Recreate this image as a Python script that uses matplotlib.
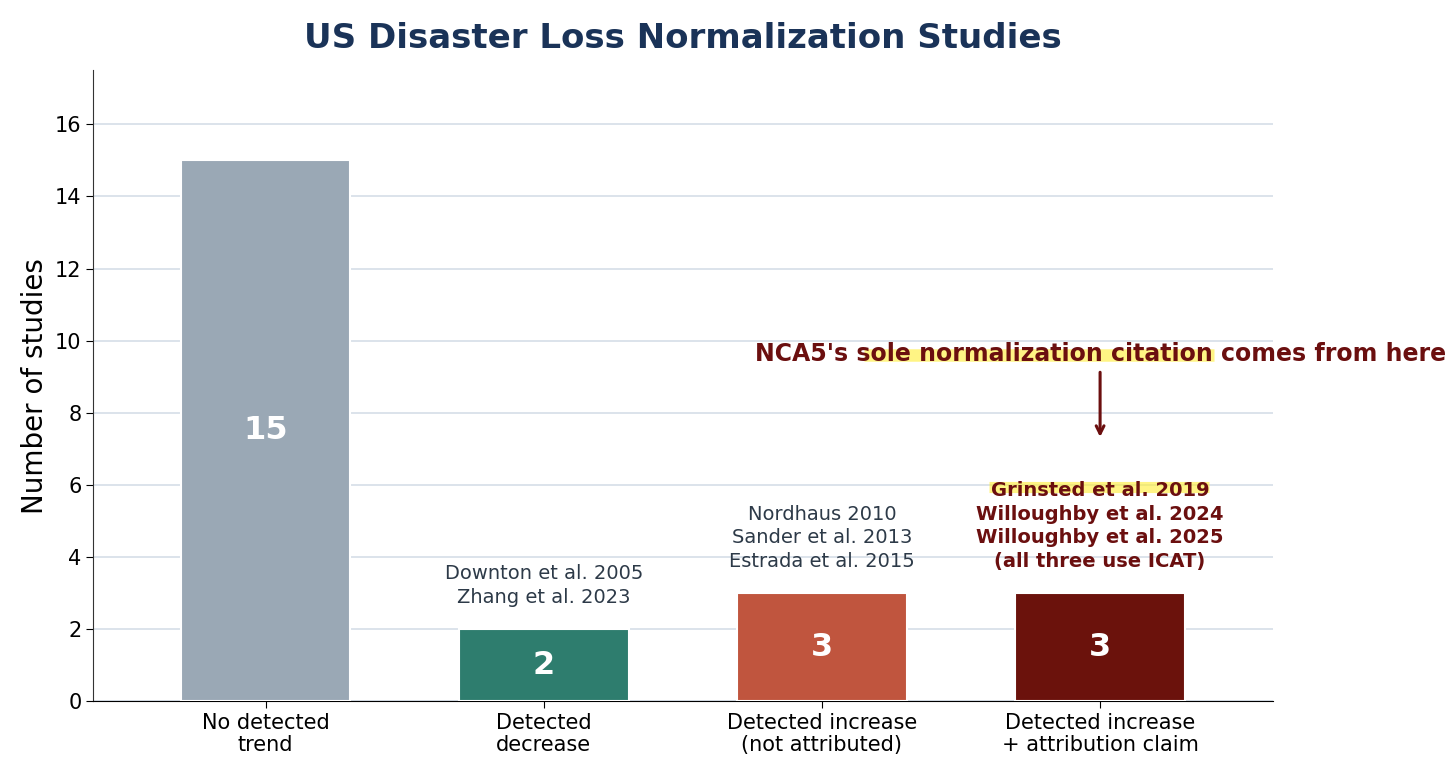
import matplotlib.pyplot as plt

plt.rcParams['font.family'] = ['DejaVu Sans']

###############################################################################
# Data
###############################################################################
categories = ['No detected\ntrend', 'Detected\ndecrease',
              'Detected increase\n(not attributed)',
              'Detected increase\n+ attribution claim']
counts = [15, 2, 3, 3]
studies = [
    None,
    ['Downton et al. 2005', 'Zhang et al. 2023'],
    ['Nordhaus 2010', 'Sander et al. 2013', 'Estrada et al. 2015'],
    ['Grinsted et al. 2019', 'Willoughby et al. 2024',
     'Willoughby et al. 2025', '(all three use ICAT)'],
]
calloutText = "NCA5's sole normalization citation comes from here"
###############################################################################
# Colors
###############################################################################
barColors = ['#9aa8b5', '#2e7d6e', '#c0553e', '#6b120c']
titleColor = '#1a3358'
noteColor = '#2d3a48'
redColor = '#6b0f0f'
hlColor = '#ffee33'
gridColor = '#d5dee8'
###############################################################################
# Plot
###############################################################################
fig, ax = plt.subplots(figsize=(14.56, 7.73), dpi=100)
fig.subplots_adjust(left=0.064, right=0.874, top=0.909, bottom=0.093)

xs = list(range(len(categories)))
ax.bar(xs, counts, width=0.61, color=barColors, edgecolor='white',
       linewidth=1.5, zorder=3)
ax.set_axisbelow(True)
ax.yaxis.grid(True, color=gridColor, linewidth=1.2, zorder=0)

for x, c in zip(xs, counts):
    ax.text(x, c / 2, str(c), ha='center', va='center', color='white',
            fontsize=23, fontweight='bold', zorder=4)

# study lists above bars
ax.text(1, counts[1] + 0.62, '\n'.join(studies[1]), ha='center',
        va='bottom', fontsize=14, color=noteColor, linespacing=1.3)
ax.text(2, counts[2] + 0.62, '\n'.join(studies[2]), ha='center',
        va='bottom', fontsize=14, color=noteColor, linespacing=1.3)
ax.text(3, counts[3] + 0.62, '\n'.join(studies[3]), ha='center',
        va='bottom', fontsize=14, color=redColor, fontweight='bold',
        linespacing=1.3, zorder=5)

# highlights
ax.plot([2.15, 3.41], [9.6, 9.6], color=hlColor, alpha=0.6, lw=9,
        solid_capstyle='butt', zorder=4, clip_on=False)
ax.plot([2.6, 3.39], [5.95, 5.95], color=hlColor, alpha=0.6, lw=8,
        solid_capstyle='butt', zorder=4)

ax.text(3, 9.64, calloutText, ha='center', va='center', fontsize=17,
        fontweight='bold', color=redColor, zorder=5, clip_on=False)
ax.annotate('', xy=(3, 7.25), xytext=(3, 9.2),
            arrowprops=dict(arrowstyle='->', color=redColor, lw=2.2,
                            mutation_scale=14))

ax.set_xticks(xs)
ax.set_xticklabels(categories, fontsize=15, linespacing=1.1)
ax.tick_params(axis='y', labelsize=15)
ax.tick_params(length=5)
ax.set_xlim(-0.62, 3.62)
ax.set_ylim(0, 17.5)
ax.set_yticks(range(0, 17, 2))
ax.set_ylabel('Number of studies', fontsize=20, labelpad=4)
ax.set_title('US Disaster Loss Normalization Studies', fontsize=24.5,
             fontweight='bold', color=titleColor, pad=16)
ax.spines['top'].set_visible(False)
ax.spines['right'].set_visible(False)
ax.spines['left'].set_color('#333333')
###############################################################################
# Export
###############################################################################
fig.savefig('out.png', dpi=100, facecolor='white')
plt.close('all')
